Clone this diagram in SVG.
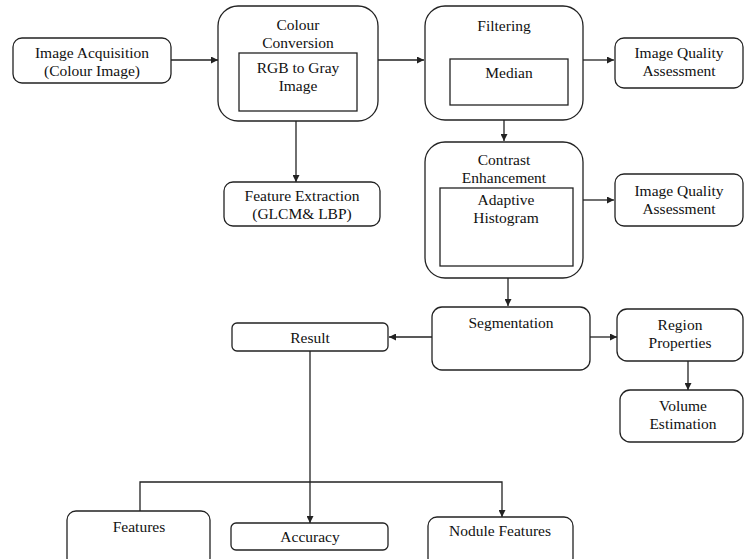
<svg xmlns="http://www.w3.org/2000/svg" width="745" height="559" viewBox="0 0 745 559">
<style>
.box{fill:#fff;stroke:#222;stroke-width:1.3}
.in{fill:#fff;stroke:#222;stroke-width:1.3}
text{font-family:'Liberation Serif','Times New Roman',Tinos,'DejaVu Serif',serif;font-size:15.5px;fill:#111;text-anchor:middle}
.c{fill:none;stroke:#222;stroke-width:1.3}
</style>
<defs>
<marker id="a" viewBox="0 0 10 10" refX="10" refY="5" markerWidth="7" markerHeight="7" markerUnits="userSpaceOnUse" orient="auto"><path d="M0,0L10,5L0,10z" fill="#222"/></marker>
</defs>
<rect width="745" height="559" fill="#fff"/>
<g id="connectors">
<path class="c" d="M171,60H218" marker-end="url(#a)"/>
<path class="c" d="M378,60H424" marker-end="url(#a)"/>
<path class="c" d="M583,60H614" marker-end="url(#a)"/>
<path class="c" d="M296,121V182" marker-end="url(#a)"/>
<path class="c" d="M504,120V141" marker-end="url(#a)"/>
<path class="c" d="M583,200H614" marker-end="url(#a)"/>
<path class="c" d="M508,278V306" marker-end="url(#a)"/>
<path class="c" d="M432,337H389" marker-end="url(#a)"/>
<path class="c" d="M590,337H617" marker-end="url(#a)"/>
<path class="c" d="M688,361V390" marker-end="url(#a)"/>
<path class="c" d="M310,351V523" marker-end="url(#a)"/>
<path class="c" d="M140,511V482H502V517" marker-end="url(#a)"/>
</g>
<g id="image-acquisition">
<rect class="box" x="13" y="38" width="158" height="45" rx="9"/>
<text x="92" y="58">Image Acquisition</text>
<text x="92" y="76">(Colour Image)</text>
</g>
<g id="colour-conversion">
<rect class="box" x="218" y="6" width="160" height="115" rx="20"/>
<text x="298" y="30">Colour</text>
<text x="298" y="48">Conversion</text>
<rect class="in" x="239" y="53" width="118" height="58"/>
<text x="298" y="73">RGB to Gray</text>
<text x="298" y="91">Image</text>
</g>
<g id="filtering">
<rect class="box" x="425" y="6" width="158" height="114" rx="20"/>
<text x="504" y="31">Filtering</text>
<rect class="in" x="450" y="59" width="118" height="46"/>
<text x="509" y="78">Median</text>
</g>
<g id="iqa-1">
<rect class="box" x="615" y="38" width="128" height="50" rx="9"/>
<text x="679" y="58">Image Quality</text>
<text x="679" y="76">Assessment</text>
</g>
<g id="feature-extraction">
<rect class="box" x="224" y="182" width="156" height="44" rx="9"/>
<text x="302" y="201">Feature Extraction</text>
<text x="302" y="219">(GLCM&amp; LBP)</text>
</g>
<g id="contrast-enhancement">
<rect class="box" x="425" y="142" width="158" height="136" rx="20"/>
<text x="504" y="165">Contrast</text>
<text x="504" y="183">Enhancement</text>
<rect class="in" x="440" y="188" width="133" height="78"/>
<text x="506" y="205">Adaptive</text>
<text x="506" y="223">Histogram</text>
</g>
<g id="iqa-2">
<rect class="box" x="615" y="174" width="128" height="52" rx="9"/>
<text x="679" y="196">Image Quality</text>
<text x="679" y="214">Assessment</text>
</g>
<g id="segmentation">
<rect class="box" x="432" y="307" width="158" height="63" rx="10"/>
<text x="511" y="328">Segmentation</text>
</g>
<g id="result">
<rect class="box" x="232" y="323" width="156" height="28" rx="5"/>
<text x="310" y="343">Result</text>
</g>
<g id="region-properties">
<rect class="box" x="617" y="309" width="126" height="52" rx="10"/>
<text x="680" y="330">Region</text>
<text x="680" y="348">Properties</text>
</g>
<g id="volume-estimation">
<rect class="box" x="620" y="390" width="123" height="52" rx="10"/>
<text x="683" y="411">Volume</text>
<text x="683" y="429">Estimation</text>
</g>
<g id="features">
<rect class="box" x="67" y="511" width="143" height="56" rx="9"/>
<text x="139" y="532">Features</text>
</g>
<g id="accuracy">
<rect class="box" x="231" y="523" width="157" height="27" rx="5"/>
<text x="310" y="542">Accuracy</text>
</g>
<g id="nodule-features">
<rect class="box" x="428" y="517" width="145" height="50" rx="9"/>
<text x="500" y="536">Nodule Features</text>
</g>
</svg>
